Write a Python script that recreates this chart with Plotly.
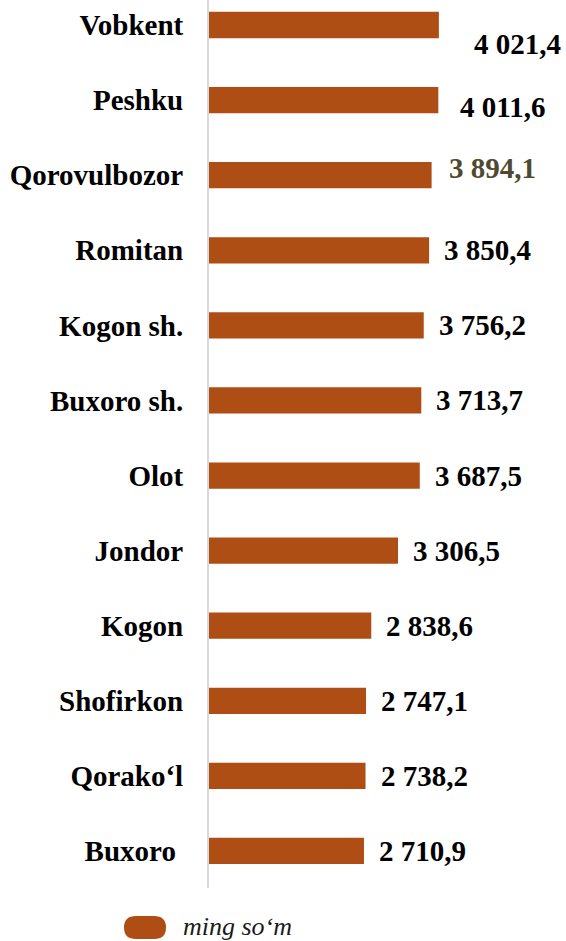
import plotly.graph_objects as go

# Districts, top to bottom, and their values (thousand so'm)
districts = ["Vobkent", "Peshku", "Qorovulbozor", "Romitan", "Kogon sh.", "Buxoro sh.",
             "Olot", "Jondor", "Kogon", "Shofirkon", "Qorako‘l", "Buxoro"]
values = [4021.4, 4011.6, 3894.1, 3850.4, 3756.2, 3713.7,
          3687.5, 3306.5, 2838.6, 2747.1, 2738.2, 2710.9]
series_name = "ming so‘m"

BAR = "#AF4E14"
FONT = "Liberation Serif"


def fmt(v):
    whole, frac = f"{v:.1f}".split(".")
    whole = f"{int(whole):,}".replace(",", " ")
    return f"{whole},{frac}"


# bottom-to-top order for the category axis
cats = districts[::-1]
vals = values[::-1]
# keep the trailing gap that the last label has
tick_text = [c + "\u00a0" if c == "Buxoro" else c for c in cats]

fig = go.Figure()
fig.add_trace(go.Bar(
    x=vals, y=cats, orientation="h", width=0.35,
    marker=dict(color=BAR, line=dict(width=0)),
    name=series_name, showlegend=False, hoverinfo="skip",
))

# label nudges (pixels) for a few labels, default sits just right of the bar
nudge = {"Vobkent": (33, -19), "Peshku": (20, -7), "Qorovulbozor": (15, 7)}
label_color = {"Qorovulbozor": "#4E4A30"}

for name, v in zip(districts, values):
    dx, dy = nudge.get(name, (13, 0))
    fig.add_annotation(
        x=v, y=name, xref="x", yref="y", text=fmt(v), showarrow=False,
        xanchor="left", yanchor="middle", xshift=dx, yshift=dy,
        font=dict(family=FONT, size=29, weight="bold",
                  color=label_color.get(name, "#000000")),
    )

# legend: rounded swatch + italic caption, below the plot area
fig.add_shape(
    type="path", xref="paper", yref="paper", xsizemode="pixel", ysizemode="pixel",
    xanchor=0, yanchor=0,
    path="M -73 -28 L -55 -28 Q -43 -28 -43 -39.5 Q -43 -51 -55 -51 "
         "L -73 -51 Q -85 -51 -85 -39.5 Q -85 -28 -73 -28 Z",
    fillcolor=BAR, line=dict(width=0),
)
fig.add_annotation(
    x=0, y=0, xref="paper", yref="paper", xanchor="left", yanchor="middle",
    xshift=-28, yshift=-38, showarrow=False, text=series_name,
    font=dict(family=FONT, size=26, style="italic", color="#1a1a1a"),
)

fig.update_layout(
    width=566, height=941,
    margin=dict(l=209, r=14, t=0, b=53),
    paper_bgcolor="white", plot_bgcolor="white",
    font=dict(family=FONT, color="#000000"),
    xaxis=dict(range=[0, 6000], visible=False),
    yaxis=dict(
        type="category", categoryorder="array", categoryarray=cats,
        tickvals=cats, ticktext=tick_text,
        range=[-0.493, 11.333],
        showline=True, linecolor="#D9D9D9", linewidth=2,
        showgrid=False, zeroline=False, ticks="",
        ticklabelstandoff=18,
        tickfont=dict(family=FONT, size=29, weight="bold", color="#000000"),
    ),
)

fig.write_html("out.html")
